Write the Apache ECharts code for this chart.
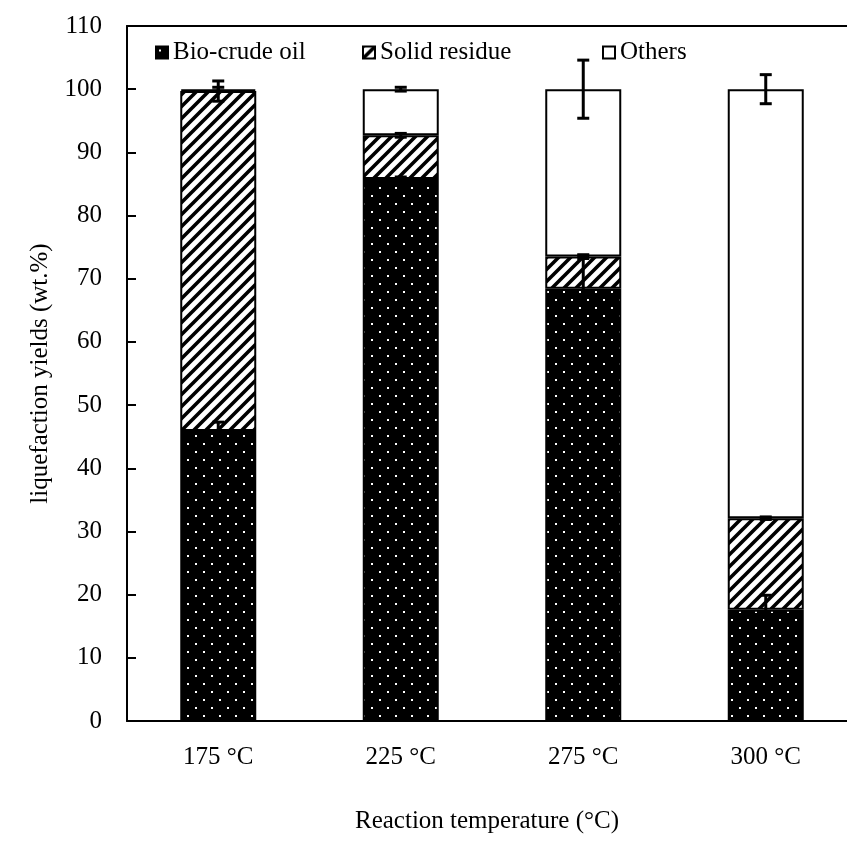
<!DOCTYPE html>
<html>
<head>
<meta charset="utf-8">
<script src="https://cdn.jsdelivr.net/npm/echarts@6/dist/echarts.min.js"></script>
<style>
  html, body { margin: 0; padding: 0; background: #fff; }
  #chart { width: 847px; height: 857px; }
</style>
</head>
<body>
<div id="chart"></div>
<script>
// Liquefaction product distribution by reaction temperature
const categories = ['175 °C', '225 °C', '275 °C', '300 °C'];
const bioCrude = [45.9, 85.8, 68.4, 17.6];
const solidResidue = [53.8, 6.9, 5.1, 14.5];
const others = [0.3, 7.3, 26.5, 67.9];
const bioCrudeErr = [1.4, 0.3, 5.2, 2.3];
const solidResidueErr = [1.6, 0.3, 0.3, 0.2];
const othersErr = [0.3, 0.3, 4.6, 2.3];
const yTicks = [0, 10, 20, 30, 40, 50, 60, 70, 80, 90, 100, 110];

const FONT = '"Liberation Serif", "Times New Roman", serif';

// Tiled fills: black with staggered white dots, and "/" hatching
function dotTile() {
  const c = document.createElement('canvas');
  c.width = 16; c.height = 16;
  const g = c.getContext('2d');
  g.fillStyle = '#000'; g.fillRect(0, 0, 16, 16);
  g.fillStyle = '#fff';
  g.fillRect(3, 3, 2, 2);
  g.fillRect(11, 11, 2, 2);
  return c;
}
function hatchTile() {
  const s = 12;
  const c = document.createElement('canvas');
  c.width = s; c.height = s;
  const g = c.getContext('2d');
  g.fillStyle = '#fff'; g.fillRect(0, 0, s, s);
  g.strokeStyle = '#000'; g.lineWidth = 3.6; g.lineCap = 'square';
  [-s, 0, s].forEach((dx) => {
    g.beginPath();
    g.moveTo(dx - 2, s + 2);
    g.lineTo(dx + s + 2, -2);
    g.stroke();
  });
  return c;
}

// Cumulative stack tops, where each series' error bar is centred
const stackTop1 = bioCrude.slice();
const stackTop2 = bioCrude.map((v, i) => v + solidResidue[i]);
const stackTop3 = stackTop2.map((v, i) => v + others[i]);

function errData(tops, errs) {
  return tops.map((t, i) => [i, t, errs[i]]);
}
const errRows = []
  .concat(errData(stackTop1, bioCrudeErr))
  .concat(errData(stackTop2, solidResidueErr))
  .concat(errData(stackTop3, othersErr));

function renderErr(params, api) {
  const x = api.value(0), c = api.value(1), e = api.value(2);
  const hi = api.coord([x, c + e]);
  const lo = api.coord([x, c - e]);
  const half = 6;
  const st = { stroke: '#000', lineWidth: 3 };
  return {
    type: 'group',
    children: [
      { type: 'line', shape: { x1: hi[0], y1: hi[1], x2: lo[0], y2: lo[1] }, style: st },
      { type: 'line', shape: { x1: hi[0] - half, y1: hi[1], x2: hi[0] + half, y2: hi[1] }, style: st },
      { type: 'line', shape: { x1: lo[0] - half, y1: lo[1], x2: lo[0] + half, y2: lo[1] }, style: st }
    ]
  };
}

const chart = echarts.init(document.getElementById('chart'), null, { renderer: 'canvas' });

const legendText = { fontFamily: FONT, fontSize: 25, color: '#000' };
const legendBase = {
  top: 35, icon: 'rect', itemWidth: 12, itemHeight: 12, itemGap: 6,
  textStyle: legendText, selectedMode: false
};

const barBorder = { borderColor: '#000', borderWidth: 2 };

chart.setOption({
  animation: false,
  backgroundColor: '#fff',
  textStyle: { fontFamily: FONT },
  grid: {
    left: 127, top: 26, width: 730, bottom: 136,
    containLabel: false, outerBoundsMode: 'none'
  },
  legend: [
    Object.assign({ left: 150, data: ['Bio-crude oil'] }, legendBase),
    Object.assign({ left: 357, data: ['Solid residue'] }, legendBase),
    Object.assign({ left: 597, data: ['Others'] }, legendBase)
  ],
  xAxis: [{
    type: 'category',
    data: categories,
    axisLine: { lineStyle: { color: '#000', width: 2 } },
    axisTick: { show: false },
    axisLabel: { fontFamily: FONT, fontSize: 25, color: '#000', margin: 24 },
    name: 'Reaction temperature (°C)',
    nameLocation: 'middle',
    nameGap: 88,
    nameTextStyle: { fontFamily: FONT, fontSize: 25, color: '#000', padding: [0, 10, 0, 0] }
  }, {
    type: 'category',
    data: categories,
    position: 'top',
    axisLine: { lineStyle: { color: '#000', width: 2 } },
    axisTick: { show: false },
    axisLabel: { show: false }
  }],
  yAxis: {
    type: 'value',
    min: yTicks[0],
    max: yTicks[yTicks.length - 1],
    interval: 10,
    axisLine: { show: true, lineStyle: { color: '#000', width: 2 } },
    axisTick: { show: true, inside: true, length: 9, lineStyle: { color: '#000', width: 2 } },
    splitLine: { show: false },
    axisLabel: { fontFamily: FONT, fontSize: 25, color: '#000', margin: 25 },
    name: 'liquefaction yields (wt.%)',
    nameLocation: 'middle',
    nameGap: 74,
    nameTextStyle: { fontFamily: FONT, fontSize: 25, color: '#000' }
  },
  series: [
    {
      name: 'Bio-crude oil', type: 'bar', stack: 'yield', barWidth: 76,
      data: bioCrude,
      itemStyle: Object.assign({ color: { image: dotTile(), repeat: 'repeat' } }, barBorder)
    },
    {
      name: 'Solid residue', type: 'bar', stack: 'yield', barWidth: 76,
      data: solidResidue,
      itemStyle: Object.assign({ color: { image: hatchTile(), repeat: 'repeat' } }, barBorder)
    },
    {
      name: 'Others', type: 'bar', stack: 'yield', barWidth: 76,
      data: others,
      itemStyle: Object.assign({ color: '#fff' }, barBorder)
    },
    {
      name: 'error', type: 'custom',
      renderItem: renderErr,
      data: errRows,
      z: 10,
      silent: true
    }
  ]
});
</script>
</body>
</html>
